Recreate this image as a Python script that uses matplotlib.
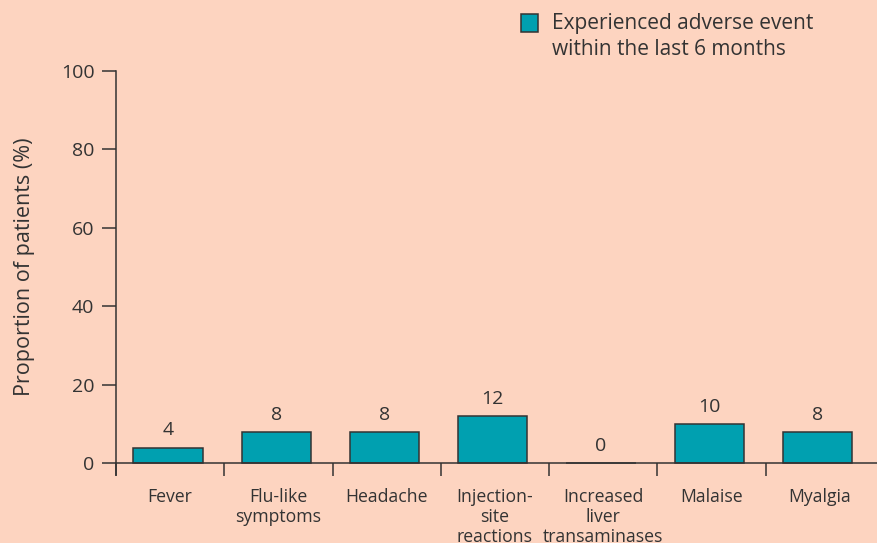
import matplotlib.pyplot as plt
import numpy as np
from matplotlib.patches import Rectangle

plt.rcParams['font.family'] = ['Open Sans', 'DejaVu Sans']

# Adverse events in the last 6 months
categories = ["Fever", "Flu-like\nsymptoms", "Headache", "Injection-\nsite\nreactions",
              "Increased\nliver\ntransaminases", "Malaise", "Myalgia"]
values = [4, 8, 8, 12, 0, 10, 8]
yticks = [0, 20, 40, 60, 80, 100]
legend_label = "Experienced adverse event\nwithin the last 6 months"

bg = "#fdd4c0"
bar_color = "#00a0b0"
ink = "#333333"

fig = plt.figure(figsize=(8.77, 5.43), dpi=100, facecolor=bg)
ax = fig.add_axes([0.1323, 0.1252, 0.8677, 0.744])
ax.set_facecolor(bg)

slots = np.arange(len(categories)) + 0.5
bars = ax.bar(slots - 0.02, values, width=0.64, color=bar_color, edgecolor=ink, linewidth=1.1)

for xi, v in zip(slots - 0.02, values):
    ax.annotate(str(v), (xi, v), xytext=(0, 6), textcoords="offset points",
                ha="center", va="bottom", fontsize=14, color=ink)

ax.set_xlim(0, 7.03)
ax.set_ylim(-3, 100)

for side in ["top", "right"]:
    ax.spines[side].set_visible(False)
ax.spines["bottom"].set_position(("data", 0))
for side in ["left", "bottom"]:
    ax.spines[side].set_color(ink)
    ax.spines[side].set_linewidth(1.1)

ax.set_yticks(yticks)
ax.tick_params(axis="y", length=10, width=1.1, color=ink, pad=5.5, labelsize=14, labelcolor=ink)

# category boundaries as major ticks, names as unmarked minor ticks
ax.set_xticks(np.arange(len(categories)))
ax.set_xticklabels([])
ax.tick_params(axis="x", which="major", length=9, width=1.1, color=ink)
ax.set_xticks(slots, minor=True)
ax.set_xticklabels(categories, minor=True, fontsize=12.7, color=ink, linespacing=1.12)
ax.tick_params(axis="x", which="minor", length=0, pad=18)

ax.set_ylabel("Proportion of patients (%)", fontsize=15.5, color=ink)
ax.yaxis.set_label_coords(-0.107, 53 / 103)

# legend drawn as a patch plus text in figure space
W, H = 877, 543
fig.patches.append(Rectangle((521 / W, 1 - 32 / H), 17 / W, 18 / H, transform=fig.transFigure,
                             facecolor=bar_color, edgecolor=ink, linewidth=1.1))
fig.text(552 / W, 1 - 13 / H, legend_label, fontsize=15, color=ink, va="top", linespacing=1.3)

fig.savefig("out.png", dpi=100, facecolor=bg)
